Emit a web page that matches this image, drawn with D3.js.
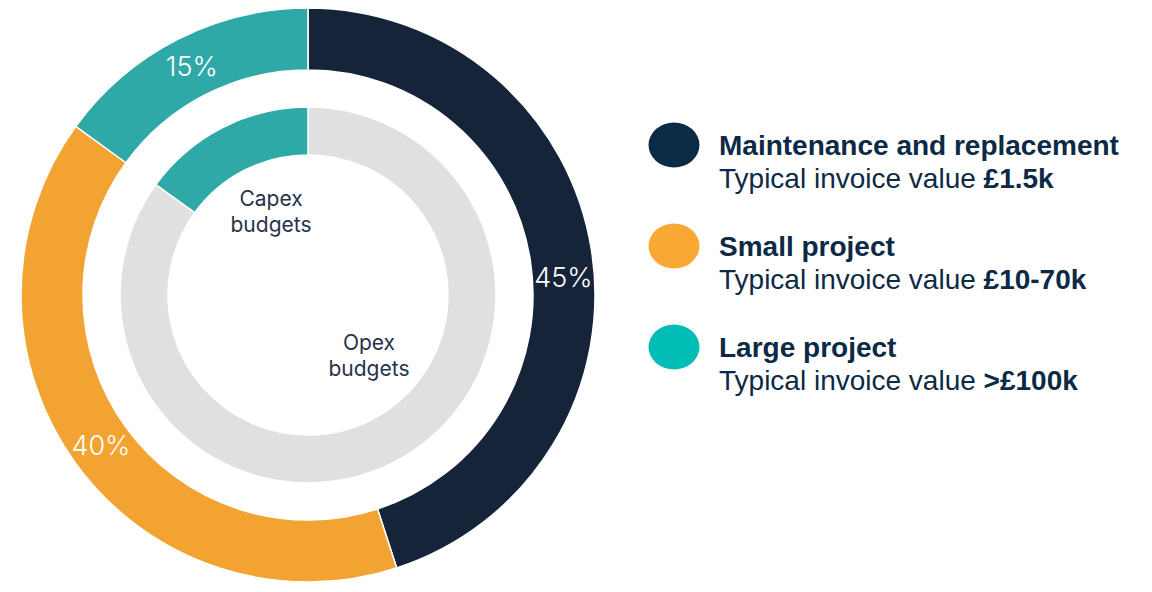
<!DOCTYPE html>
<html><head><meta charset="utf-8">
<script src="https://cdn.jsdelivr.net/npm/d3@7/dist/d3.min.js"></script>
<style>
html,body{margin:0;padding:0;background:#fff;}
svg{display:block;}
</style></head>
<body>
<svg id="chart" width="1152" height="592"></svg>
<script>
// ---- Data ----
const categories = ["Maintenance and replacement", "Small project", "Large project"];
const outerValues = [45, 40, 15];
const outerLabels = ["45%", "40%", "15%"];
const invoiceValues = ["£1.5k", "£10-70k", ">£100k"];
const budgetCategories = ["Opex budgets", "Capex budgets"];
const budgetValues = [85, 15];

// ---- Styles ----
const ringColors = ["#16243a", "#f3a332", "#2ea9a7"];
const legendColors = ["#0b2a45", "#f9a834", "#00bdb5"];
const budgetColors = ["#e0e0e0", "#2ea9a7"];
const textColor = "#0c2a45";

const svg = d3.select("#chart");
const cx = 308, cy = 295;
const g = svg.append("g").attr("transform", `translate(${cx},${cy})`);

const pie = d3.pie().sort(null).value(d => d);

// Outer ring
const outerArc = d3.arc().innerRadius(225).outerRadius(287);
const outerArcs = pie(outerValues);
g.selectAll("path.outer").data(outerArcs).enter().append("path")
  .attr("class", "outer")
  .attr("d", outerArc)
  .attr("fill", (d, i) => ringColors[i])
  .attr("stroke", "#fff").attr("stroke-width", 1.5);

// Inner ring
const innerArc = d3.arc().innerRadius(140).outerRadius(188);
const innerArcs = pie(budgetValues);
g.selectAll("path.inner").data(innerArcs).enter().append("path")
  .attr("class", "inner")
  .attr("d", innerArc)
  .attr("fill", (d, i) => budgetColors[i])
  .attr("stroke", "#fff").attr("stroke-width", 1.5);

// Percentage labels
const labelNudge = [0.09, 0, 0]; // angular nudge (radians)
const labelR = 256;
g.selectAll("text.pct").data(outerArcs).enter().append("text")
  .attr("class", "pct")
  .attr("x", (d, i) => labelR * Math.sin((d.startAngle + d.endAngle) / 2 + labelNudge[i]))
  .attr("y", (d, i) => -labelR * Math.cos((d.startAngle + d.endAngle) / 2 + labelNudge[i]))
  .attr("text-anchor", "middle")
  .attr("dominant-baseline", "central")
  .attr("font-family", "Inter, 'Open Sans', sans-serif")
  .attr("font-weight", 300)
  .attr("font-size", 27)
  .attr("fill", "#fff")
  .text((d, i) => outerLabels[i]);

// Budget labels (inside)
const budgetLabelPos = [[61, 55], [-37, -89]];
budgetCategories.forEach((name, i) => {
  const words = name.split(" ");
  const t = g.append("text")
    .attr("text-anchor", "middle")
    .attr("font-family", "Inter, 'Open Sans', sans-serif")
    .attr("font-size", 21)
    .attr("fill", "#27324a");
  words.forEach((w, j) => {
    t.append("tspan").attr("x", budgetLabelPos[i][0]).attr("y", budgetLabelPos[i][1] + j * 25.5).text(w);
  });
});

// Legend
const legendY = d3.scalePoint().domain(categories).range([145, 347]);
const lg = svg.append("g");
categories.forEach((c, i) => {
  const y = legendY(c);
  lg.append("ellipse").attr("cx", 674).attr("cy", y).attr("rx", 25.5).attr("ry", 22.5)
    .attr("fill", legendColors[i]);
  lg.append("text").attr("x", 719).attr("y", y + 9.5)
    .attr("font-family", "'Liberation Sans', Arial, sans-serif")
    .attr("font-weight", "bold").attr("font-size", 28)
    .attr("fill", textColor).text(c);
  const t = lg.append("text").attr("x", 719).attr("y", y + 42.5)
    .attr("font-family", "'Liberation Sans', Arial, sans-serif")
    .attr("font-size", 28).attr("fill", textColor);
  t.append("tspan").text("Typical invoice value ");
  t.append("tspan").attr("font-weight", "bold").text(invoiceValues[i]);
});
</script>
</body></html>
